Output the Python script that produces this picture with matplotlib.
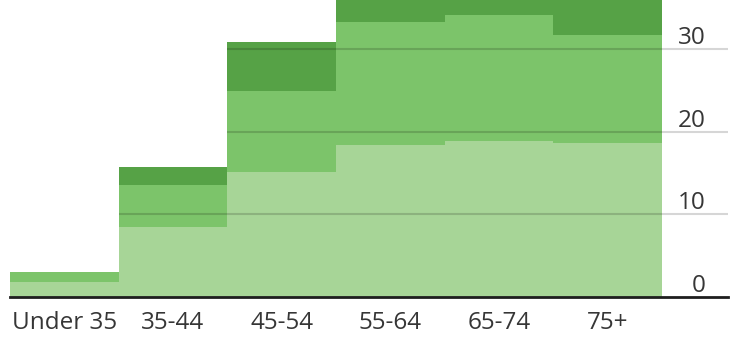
import numpy as np
import matplotlib
matplotlib.use("Agg")
import matplotlib.pyplot as plt

# age groups and stacked layer heights
groups = ["Under 35", "35-44", "45-54", "55-64", "65-74", "75+"]
layer_light = [1.8, 8.5, 15.1, 18.4, 18.8, 18.6]
layer_mid = [1.2, 5.0, 9.8, 14.8, 15.3, 13.1]
layer_dark = [0.0, 2.2, 5.9, 4.5, 3.5, 5.5]
y_ticks = [0, 10, 20, 30]

colors = ["#a7d597", "#7cc46a", "#56a246"]

plt.rcParams["font.family"] = ["Open Sans", "DejaVu Sans"]

fig = plt.figure(figsize=(7.31, 3.38), dpi=100)
ax = fig.add_axes([10 / 731, 41 / 338, 718 / 731, 297 / 338])

x = np.arange(len(groups))
bottom = np.zeros(len(groups))
for vals, c in zip([layer_light, layer_mid, layer_dark], colors):
    ax.bar(x, vals, width=1.0, bottom=bottom, align="edge", color=c,
           linewidth=0, zorder=1)
    bottom = bottom + np.array(vals)
totals = bottom

ax.set_xlim(0, 6.607)
ax.set_ylim(0, 35.9)

# gridlines only where bars reach them, and across the label gutter
for v in y_ticks[1:]:
    start = int(np.argmax(totals > v))
    ax.hlines(v, start, 6.607, color="black", alpha=0.16, linewidth=1.5,
              zorder=2)
for v in y_ticks:
    ax.text(6.40, v + 0.6, str(v), ha="right", va="baseline", fontsize=17.5,
            color="#363636", zorder=3)

ax.axhline(0, color="#1e1e1e", linewidth=2.0, zorder=3, clip_on=False)

ax.set_xticks(x + 0.5)
ax.set_xticklabels(groups, fontsize=17.5, color="#363636")
ax.tick_params(axis="x", length=0, pad=10)
ax.set_yticks([])
for s in ax.spines.values():
    s.set_visible(False)

fig.savefig("out.png", dpi=100)
